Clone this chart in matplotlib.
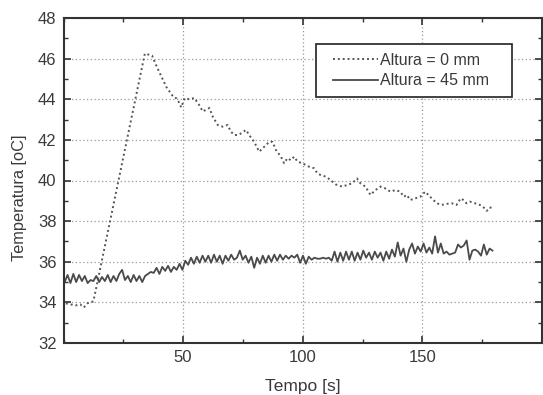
import numpy as np
import matplotlib
matplotlib.use("Agg")
import matplotlib.pyplot as plt
from matplotlib.ticker import MultipleLocator
from matplotlib.legend_handler import HandlerLine2D

plt.rcParams["font.family"] = ["Liberation Sans", "DejaVu Sans"]

# ---- data ----
t_dot = [1, 3, 5, 7, 8.5, 10, 12.5, 34, 35.5, 37, 39, 41, 43, 44.5, 46, 47.2, 48, 49.2,
         50.6, 52.6, 54.7, 56.8, 58.2, 61, 62.4, 64.5, 66.5, 68.6, 70, 71.4, 72.8, 74.2,
         76.3, 77.6, 79.7, 81.8, 83.9, 86, 87.4, 88.8, 90.9, 92.2, 93.6, 95, 96.4, 97.8,
         99.8, 102.6, 104.8, 106.1, 107.5, 109.6, 111.7, 113.7, 116.5, 118.6, 120.6,
         122.7, 124.1, 126.2, 128.3, 130.4, 132.5, 134.5, 136.6, 138.7, 140.8, 142.2,
         143.5, 144.9, 147, 149.1, 151.2, 152.5, 153.9, 156, 158.1, 160.2, 162.2, 164.3,
         166, 167.1, 168.4, 169.8, 171.9, 174, 176.1, 176.8, 178.2, 178.9]
T_dot = [33.95, 33.9, 33.85, 33.9, 33.75, 33.95, 34.05, 46.25, 46.2, 46.15, 45.6, 45.1,
         44.6, 44.35, 44.1, 44.05, 43.9, 43.6, 44.05, 44.0, 44.06, 43.7, 43.4, 43.57,
         43.14, 42.73, 42.65, 42.73, 42.4, 42.24, 42.24, 42.32, 42.49, 42.24, 41.9, 41.42,
         41.66, 41.9, 41.9, 41.5, 41.17, 40.85, 41.1, 41.0, 41.17, 40.93, 40.85, 40.68,
         40.6, 40.35, 40.27, 40.19, 40.02, 39.81, 39.7, 39.78, 39.86, 40.1, 39.86, 39.7,
         39.29, 39.53, 39.7, 39.61, 39.45, 39.53, 39.45, 39.2, 39.29, 39.04, 39.12, 39.2,
         39.45, 39.29, 39.12, 38.88, 38.8, 38.85, 38.88, 38.8, 39.12, 39.04, 38.88, 38.96,
         38.88, 38.8, 38.63, 38.51, 38.57, 38.8]

t_sol = np.arange(150) * 1.2 + 0.5
T_sol = [35.0, 35.35, 34.95, 35.4, 35.0, 35.35, 35.05, 35.3, 34.95, 35.1,
         35.05, 35.3, 35.0, 35.25, 35.05, 35.35, 35.0, 35.3, 35.05, 35.4,
         35.6, 35.1, 35.3, 35.0, 35.35, 35.05, 35.3, 35.0, 35.3, 35.4,
         35.5, 35.45, 35.7, 35.4, 35.75, 35.55, 35.8, 35.5, 35.75, 35.6,
         35.9, 35.6, 36.05, 35.85, 36.2, 35.9, 36.25, 35.95, 36.3, 36.0,
         36.3, 35.95, 36.35, 36.0, 36.3, 35.9, 36.3, 36.05, 36.35, 36.1,
         36.2, 36.55, 36.1, 36.3, 35.95, 36.25, 35.7, 36.2, 35.9, 36.3,
         35.95, 36.3, 36.0, 36.35, 36.05, 36.35, 36.1, 36.3, 36.15, 36.3,
         36.2, 36.35, 35.95, 36.3, 35.9, 36.25, 36.1, 36.2, 36.15, 36.15,
         36.2, 36.15, 36.2, 36.05, 36.5, 36.0, 36.45, 36.05, 36.5, 36.1,
         36.5, 36.05, 36.45, 36.1, 36.55, 36.2, 36.45, 36.1, 36.5, 36.2,
         36.45, 36.05, 36.5, 36.15, 36.6, 36.25, 36.95, 36.3, 36.65, 36.0,
         36.6, 36.9, 36.4, 36.75, 36.5, 36.9, 36.45, 36.7, 36.4, 37.25,
         36.45, 36.9, 36.4, 36.5, 36.35, 36.4, 36.45, 36.85, 36.7, 36.8,
         37.05, 36.1, 36.55, 36.6, 36.5, 36.3, 36.85, 36.35, 36.65, 36.55]

labels = ["Altura = 0 mm", "Altura = 45 mm"]
xlabel = "Tempo [s]"
ylabel = "Temperatura [oC]"

# ---- figure ----
W, H = 543, 395
fig = plt.figure(figsize=(W / 100, H / 100), dpi=100)
AX_L, AX_R, AX_T, AX_B = 63.5, 542, 18, 343
ax = fig.add_axes([AX_L / W, 1 - AX_B / H, (AX_R - AX_L) / W, (AX_B - AX_T) / H])
aw, ah = AX_R - AX_L, AX_B - AX_T

txt = "#3a3a3a"
ax.plot(t_dot, T_dot, color="#555555", lw=1.4, ls=(0, (1, 1.5)), label=labels[0])
ax.plot(t_sol, T_sol, color="#4a4a4a", lw=1.3, label=labels[1])

ax.set_xlim(0, 200)
ax.set_ylim(32, 48)
ax.set_xticks([50, 100, 150])
ax.xaxis.set_minor_locator(MultipleLocator(25))
ax.yaxis.set_major_locator(MultipleLocator(2))
ax.yaxis.set_minor_locator(MultipleLocator(1))
ax.tick_params(which="both", direction="in", top=True, right=True,
               colors="#333333", labelcolor=txt, labelsize=12)
ax.tick_params(which="major", length=5, width=1.2, pad=5)
ax.tick_params(which="minor", length=3, width=1.0)
ax.grid(True, which="major", ls=(0, (1, 2)), color="#999999", lw=0.9)
for s in ax.spines.values():
    s.set_color("#333333")
    s.set_linewidth(1.5)

ax.set_xlabel(xlabel, fontsize=12.5, color=txt, labelpad=10)
ax.set_ylabel(ylabel, fontsize=11.8, color=txt)
ax.yaxis.set_label_coords(-(AX_L - 27) / aw, (AX_B - 198) / ah)

fs = 11.5
fpx = fs * 100 / 72
bp = 0.55
pad_px = bp * fpx
xpad = (333 - 316 - pad_px) / fpx
hl = (378 - 316 - pad_px) / fpx
leg = ax.legend(loc="upper left",
                bbox_to_anchor=((316 - AX_L) / aw, 1 - (98 - AX_T) / ah,
                                (512 - 316) / aw, (98 - 44) / ah),
                mode="expand", borderaxespad=0, fontsize=fs, frameon=True,
                fancybox=False, handlelength=hl, handletextpad=0.12,
                borderpad=bp, labelspacing=0.35, framealpha=1,
                handler_map={matplotlib.lines.Line2D: HandlerLine2D(xpad=xpad)})
leg.get_frame().set_edgecolor("#333333")
leg.get_frame().set_linewidth(1.3)
for t in leg.get_texts():
    t.set_color(txt)

fig.savefig("out.png", dpi=100)
